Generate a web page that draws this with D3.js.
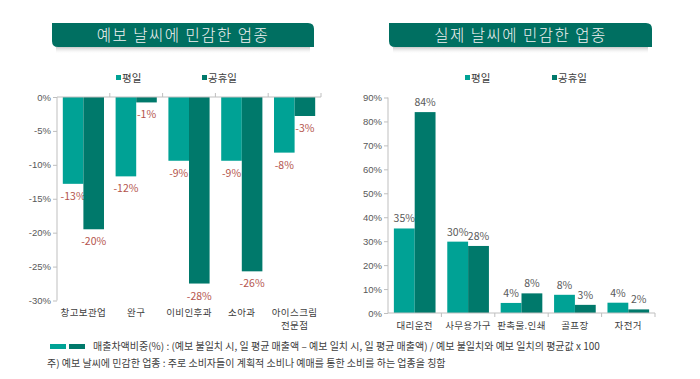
<!DOCTYPE html>
<html>
<head>
<meta charset="utf-8">
<script src="https://cdn.jsdelivr.net/npm/d3@7"></script>
<style>
  body { margin: 0; background: #fff; }
  svg { display: block; font-family: "Noto Sans CJK KR", "Noto Sans", sans-serif; }
</style>
</head>
<body>
<div id="chart"></div>
<script>
// data
var seriesNames = ["평일", "공휴일"];
var leftCats = ["창고보관업", "완구", "이비인후과", "소아과", "아이스크림\n전문점"];
var leftWeekday = [-12.8, -11.7, -9.4, -9.4, -8.2];
var leftHoliday = [-19.5, -0.8, -27.5, -25.7, -2.8];
var leftLabelsWd = ["-13%", "-12%", "-9%", "-9%", "-8%"];
var leftLabelsHd = ["-20%", "-1%", "-28%", "-26%", "-3%"];
var leftTicks = [0, -5, -10, -15, -20, -25, -30];

var rightCats = ["대리운전", "사무용가구", "판촉물.인쇄", "골프장", "자전거"];
var rightWeekday = [35.3, 29.8, 4.2, 7.6, 4.3];
var rightHoliday = [83.9, 28, 8.2, 3.4, 1.5];
var rightLabelsWd = ["35%", "30%", "4%", "8%", "4%"];
var rightLabelsHd = ["84%", "28%", "8%", "3%", "2%"];
var rightTicks = [0, 10, 20, 30, 40, 50, 60, 70, 80, 90];

var titles = ["예보 날씨에 민감한 업종", "실제 날씨에 민감한 업종"];
var footnote1 = "매출차액비중(%) : (예보 불일치 시, 일 평균 매출액 – 예보 일치 시, 일 평균 매출액) / 예보 불일치와 예보 일치의 평균값 x 100";
var footnote2 = "주) 예보 날씨에 민감한 업종 : 주로 소비자들이 계획적 소비나 예매를 통한 소비를 하는 업종을 칭함";

var colors = ["#00a295", "#00796b"];
var bannerColor = "#006f61";
var axisColor = "#bfbfbf";
var textColor = "#595959";

var width = 700, height = 379;
var svg = d3.select("#chart").append("svg")
  .attr("width", width).attr("height", height);

var defs = svg.append("defs");
var grad = defs.append("linearGradient").attr("id", "shadow")
  .attr("x1", 0).attr("x2", 0).attr("y1", 0).attr("y2", 1);
grad.append("stop").attr("offset", 0).attr("stop-color", "#999").attr("stop-opacity", 0.55);
grad.append("stop").attr("offset", 1).attr("stop-color", "#fff").attr("stop-opacity", 0);

// banner: rounded top-right and bottom-left corners
function banner(x0, x1, y0, y1, text) {
  var r = 6;
  var g = svg.append("g");
  g.append("rect").attr("x", x0 + 4).attr("y", y1).attr("width", x1 - x0 - 8).attr("height", 7)
    .attr("fill", "url(#shadow)");
  var p = "M" + x0 + "," + y0 + "H" + (x1 - r) + "Q" + x1 + "," + y0 + " " + x1 + "," + (y0 + r)
    + "V" + y1 + "H" + (x0 + r) + "Q" + x0 + "," + y1 + " " + x0 + "," + (y1 - r) + "Z";
  g.append("path").attr("d", p).attr("fill", bannerColor);
  g.append("text").attr("x", (x0 + x1) / 2).attr("y", (y0 + y1) / 2 + 5.5)
    .attr("text-anchor", "middle").attr("fill", "#f2f2f2")
    .style("font-size", "15.5px").style("font-weight", 300).style("letter-spacing", "1.5px")
    .text(text);
}
banner(52, 314, 23, 47, titles[0]);
banner(389, 652, 23, 47, titles[1]);

function legend(xs, y) {
  seriesNames.forEach(function(name, i) {
    svg.append("rect").attr("x", xs[i]).attr("y", y - 3).attr("width", 5).attr("height", 5)
      .attr("fill", colors[i]);
    svg.append("text").attr("x", xs[i] + 6).attr("y", y + 4)
      .attr("fill", "#404040").style("font-size", "10.5px").text(name);
  });
}
legend([116, 202], 78);
legend([465, 552], 78);

function groupedBars(opt) {
  var x = d3.scaleBand().domain(opt.cats).range(opt.xRange).paddingInner(0.22).paddingOuter(0.11);
  var xs = d3.scaleBand().domain([0, 1]).range([0, x.bandwidth()]);
  var y = d3.scaleLinear().domain(opt.yDomain).range(opt.yRange);
  var g = svg.append("g");
  var series = [opt.wd, opt.hd];
  var labels = [opt.lwd, opt.lhd];

  series.forEach(function(vals, s) {
    g.selectAll(".b" + s).data(vals).enter().append("rect")
      .attr("x", function(d, i) { return x(opt.cats[i]) + xs(s); })
      .attr("width", xs.bandwidth())
      .attr("y", function(d) { return Math.min(y(0), y(d)); })
      .attr("height", function(d) { return Math.abs(y(d) - y(0)); })
      .attr("fill", colors[s]);
    g.selectAll(".l" + s).data(vals).enter().append("text")
      .attr("x", function(d, i) { return x(opt.cats[i]) + xs(s) + xs.bandwidth() / 2; })
      .attr("y", function(d) { return d < 0 ? y(d) + 16 : y(d) - 6; })
      .attr("text-anchor", "middle")
      .attr("fill", opt.labelColor)
      .style("font-size", "10.5px")
      .text(function(d, i) { return labels[s][i]; });
  });

  // y axis
  var yAxis = d3.axisLeft(y).tickValues(opt.ticks).tickSize(4).tickFormat(function(d) { return d + "%"; });
  var ya = g.append("g").attr("transform", "translate(" + opt.xRange[0] + ",0)").call(yAxis);
  ya.select(".domain").attr("stroke", axisColor).attr("d", "M0," + opt.yRange[0] + "V" + opt.yRange[1]);
  ya.selectAll(".tick line").attr("stroke", axisColor);
  ya.selectAll(".tick text").attr("fill", textColor).attr("x", -6)
    .style("font-size", "9.5px").style("font-family", "'Liberation Sans', 'Noto Sans CJK KR', sans-serif");

  // category axis at zero
  var y0 = y(0);
  g.append("line").attr("x1", opt.xRange[0]).attr("x2", opt.xRange[1]).attr("y1", y0).attr("y2", y0)
    .attr("stroke", axisColor);
  var bounds = opt.cats.map(function(c) { return x(c) - x.step() * x.paddingInner() / 2; });
  bounds.push(opt.xRange[1]);
  g.selectAll(".ct").data(bounds.slice(1)).enter().append("line")
    .attr("x1", function(d) { return d; }).attr("x2", function(d) { return d; })
    .attr("y1", y0).attr("y2", y0 + opt.tickDir * 4).attr("stroke", axisColor);

  // category labels
  opt.cats.forEach(function(c) {
    var lines = c.split("\n");
    var t = g.append("text").attr("text-anchor", "middle").attr("fill", "#404040")
      .style("font-size", "9.5px").style("letter-spacing", "0.4px");
    lines.forEach(function(line, k) {
      t.append("tspan").attr("x", x(c) + x.bandwidth() / 2).attr("y", opt.catY + k * 13).text(line);
    });
  });
}

groupedBars({
  cats: leftCats, wd: leftWeekday, hd: leftHoliday, lwd: leftLabelsWd, lhd: leftLabelsHd,
  xRange: [57, 321], yDomain: [0, -30], yRange: [97, 300.5], ticks: leftTicks,
  labelColor: "#b4544c", tickDir: -1, catY: 316
});
groupedBars({
  cats: rightCats, wd: rightWeekday, hd: rightHoliday, lwd: rightLabelsWd, lhd: rightLabelsHd,
  xRange: [388, 655], yDomain: [0, 90], yRange: [313, 97.5], ticks: rightTicks,
  labelColor: textColor, tickDir: 1, catY: 329
});

// footer
svg.append("rect").attr("x", 50).attr("y", 344).attr("width", 16).attr("height", 5).attr("fill", colors[0]);
svg.append("rect").attr("x", 69).attr("y", 344).attr("width", 16).attr("height", 5).attr("fill", colors[1]);
svg.append("text").attr("x", 93).attr("y", 350).attr("fill", "#404040")
  .style("font-size", "10px").text(footnote1);
svg.append("text").attr("x", 47).attr("y", 367).attr("fill", "#404040")
  .style("font-size", "10px").text(footnote2);
</script>
</body>
</html>
